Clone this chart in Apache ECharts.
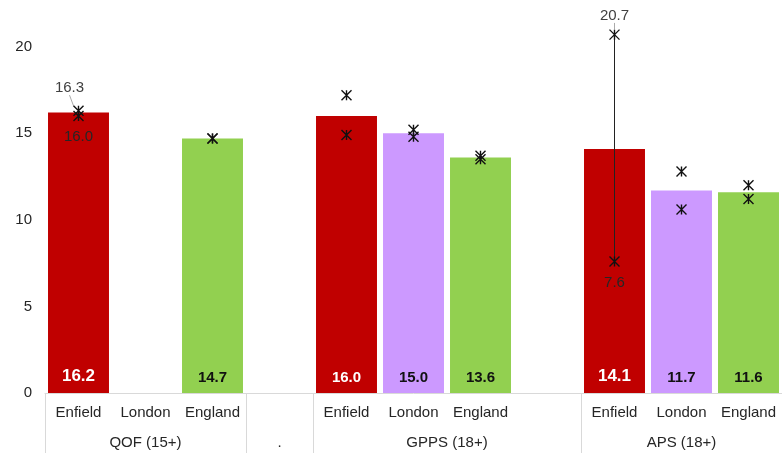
<!DOCTYPE html>
<html>
<head>
<meta charset="utf-8">
<script src="https://cdn.jsdelivr.net/npm/echarts@6/dist/echarts.min.js"></script>
<style>html,body{margin:0;padding:0;background:#fff}#c{width:782px;height:453px}</style>
</head>
<body>
<div id="c"></div>
<script>
// ---- data ----
var areas = ['Enfield', 'London', 'England', '', 'Enfield', 'London', 'England', '', 'Enfield', 'London', 'England'];
var values = [16.2, null, 14.7, null, 16.0, 15.0, 13.6, null, 14.1, 11.7, 11.6];
var upperCI = [16.3, null, 14.7, null, 17.2, 15.2, 13.7, null, 20.7, 12.8, 12.0];
var lowerCI = [16.0, null, 14.7, null, 14.9, 14.8, 13.5, null, 7.6, 10.6, 11.2];
var groupLabels = ['QOF (15+)', '.', 'GPPS (18+)', 'APS (18+)'];
var groupCentres = [1, 3, 5.5, 9];
var groupBounds = [-0.5, 2.5, 3.5, 7.5, 10.5];
var labelledCI = [0, 8];
var ciLineIdx = [8];
var yTicks = [0, 5, 10, 15, 20];

var colors = { Enfield: '#C00000', London: '#CC99FF', England: '#92D050' };
var font = 'Liberation Sans, Arial, sans-serif';
var starPath = 'path://M0,0L10,10M10,0L0,10M5,0L5,10';
function fmt1(p) { var v = Array.isArray(p.value) ? p.value[1] : p.value; return v == null ? '' : Number(v).toFixed(1); }

var barData = values.map(function (v, i) {
  var enf = areas[i] === 'Enfield';
  var big = (i === 0 || i === 8);
  return {
    value: v,
    itemStyle: { color: colors[areas[i]] || '#ccc' },
    label: {
      color: enf ? '#fff' : '#111',
      fontSize: big ? 17 : 15
    }
  };
});

function ciData(arr, pos) {
  return arr.map(function (v, i) {
    if (v === null) return [i, null];
    var lab = labelledCI.indexOf(i) >= 0;
    return { value: [i, v], label: { show: lab, position: pos } };
  });
}

var lineSeries = ciLineIdx.map(function (i) {
  return {
    type: 'line', data: [[i, lowerCI[i]], [i, upperCI[i]]],
    symbol: 'none', lineStyle: { color: '#222', width: 1 }, z: 4, silent: true
  };
});

var chart = echarts.init(document.getElementById('c'), null, { renderer: 'canvas' });
chart.setOption({
  animation: false,
  textStyle: { fontFamily: font },
  grid: { left: 45, right: 0, top: 0, bottom: 60 },
  xAxis: [
    {
      type: 'category', data: areas,
      axisLine: { show: true, lineStyle: { color: '#d9d9d9' } },
      axisTick: { show: false },
      axisLabel: { fontSize: 15, color: '#262626', margin: 12, fontFamily: font, interval: 0 }
    },
    {
      type: 'value', min: -0.5, max: 10.5, position: 'bottom',
      splitLine: { show: false },
      axisLine: { show: false },
      axisTick: { show: true, length: 60, customValues: groupBounds, lineStyle: { color: '#d9d9d9' } },
      axisLabel: {
        customValues: groupCentres, fontSize: 15, color: '#262626', margin: 42, fontFamily: font,
        formatter: function (v) {
          var k = groupCentres.indexOf(v);
          return k >= 0 ? groupLabels[k] : '';
        }
      }
    }
  ],
  yAxis: {
    type: 'value', min: 0, max: 22.7, interval: 5,
    splitLine: { show: false },
    axisLine: { show: false }, axisTick: { show: false },
    axisLabel: { fontSize: 15, color: '#262626', margin: 13, fontFamily: font, customValues: yTicks }
  },
  series: [
    {
      type: 'bar', data: barData, barCategoryGap: '9%',
      label: { show: true, position: 'insideBottom', distance: 8, fontWeight: 'bold', fontFamily: font, formatter: fmt1 }
    },
    {
      type: 'scatter', data: ciData(upperCI, 'top'), symbol: starPath, symbolSize: [10, 10], z: 5,
      itemStyle: { color: 'rgba(0,0,0,0)', borderColor: '#111', borderWidth: 1.4, opacity: 1 },
      label: { fontSize: 15, color: '#404040', distance: 6, fontFamily: font, formatter: fmt1 },
      labelLine: { show: true, lineStyle: { color: '#aaa', width: 1 } },
      labelLayout: function (p) { if (p.dataIndex === 0) return { dx: -9, dy: -4 }; }
    },
    {
      type: 'scatter', data: ciData(lowerCI, 'bottom'), symbol: starPath, symbolSize: [10, 10], z: 5,
      itemStyle: { color: 'rgba(0,0,0,0)', borderColor: '#111', borderWidth: 1.4, opacity: 1 },
      label: { fontSize: 15, color: '#262626', distance: 8, fontFamily: font, formatter: fmt1 }
    }
  ].concat(lineSeries)
});
</script>
</body>
</html>
